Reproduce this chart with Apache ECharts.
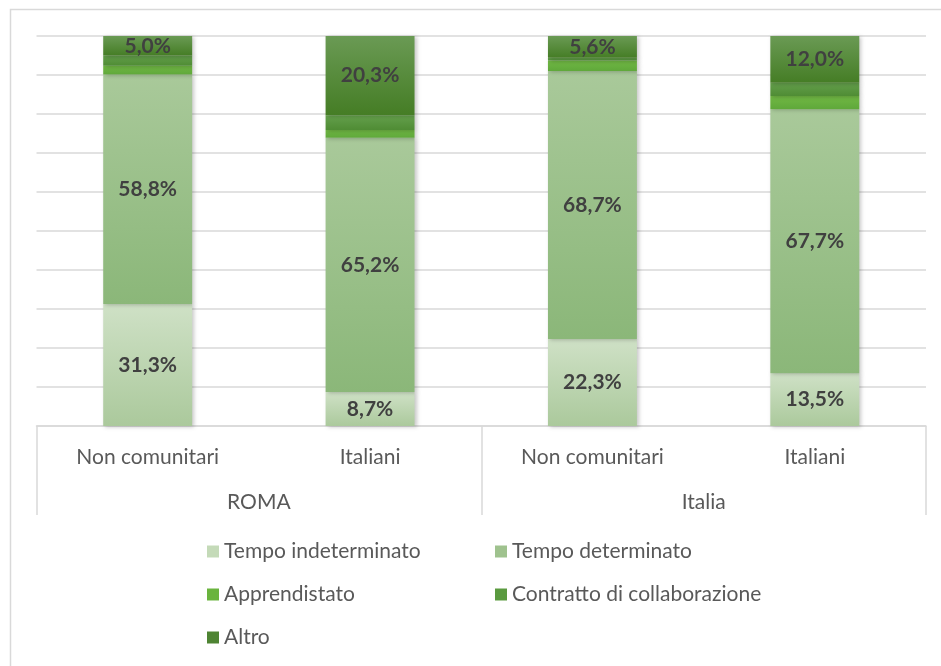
<!DOCTYPE html>
<html>
<head>
<meta charset="utf-8">
<script src="https://cdn.jsdelivr.net/npm/echarts@6/dist/echarts.min.js"></script>
<style>
html,body{margin:0;padding:0;background:#fff;}
#chart{width:941px;height:666px;}
</style>
</head>
<body>
<div id="chart"></div>
<script>
const categories = ['Non comunitari', 'Italiani', 'Non comunitari', 'Italiani'];
const groups = ['ROMA', 'Italia'];
const seriesNames = ['Tempo indeterminato', 'Tempo determinato', 'Apprendistato', 'Contratto di collaborazione', 'Altro'];
const tempoIndeterminato = [31.3, 8.7, 22.3, 13.5];
const tempoDeterminato = [58.8, 65.2, 68.7, 67.7];
const apprendistato = [2.3, 2.0, 2.7, 3.4];
const contratto = [2.6, 3.8, 0.7, 3.4];
const altro = [5.0, 20.3, 5.6, 12.0];
const yTicks = [0, 10, 20, 30, 40, 50, 60, 70, 80, 90, 100];

const FONT = 'Lato';
function grad(top, bottom) {
  return new echarts.graphic.LinearGradient(0, 0, 0, 1, [
    {offset: 0, color: top}, {offset: 1, color: bottom}
  ]);
}
const colors = [
  ['#cfe1c6', '#abc99c'],
  ['#a9c99a', '#8bb779'],
  ['#71b844', '#5fa83a'],
  ['#649f4c', '#4f8c34'],
  ['#6a9a54', '#457d25']
];
const legendSwatch = ['#c4dab8', '#9fc28e', '#6ab43e', '#5a9a3f', '#4e8433'];
const values = [tempoIndeterminato, tempoDeterminato, apprendistato, contratto, altro];
const showLabel = [true, true, false, false, true];

const series = seriesNames.map((name, i) => ({
  name: name,
  type: 'bar',
  stack: 'total',
  barWidth: '40%',
  xAxisIndex: 0,
  data: values[i],
  itemStyle: {
    color: grad(colors[i][0], colors[i][1]),
    shadowColor: 'rgba(0,0,0,0.22)',
    shadowBlur: 4,
    shadowOffsetX: 2,
    shadowOffsetY: 1
  },
  label: {
    show: showLabel[i],
    position: 'inside',
    formatter: p => p.value.toFixed(1).replace('.', ',') + '%',
    fontFamily: FONT,
    fontWeight: 'bold',
    fontSize: 21,
    color: '#404040'
  }
}));

const legendPos = [
  {left: 207, top: 541},
  {left: 495, top: 541},
  {left: 207, top: 584},
  {left: 495, top: 584},
  {left: 207, top: 627}
];
const legends = seriesNames.map((name, i) => ({
  data: [{name: name, itemStyle: {color: legendSwatch[i]}}],
  left: legendPos[i].left,
  top: legendPos[i].top,
  icon: 'rect',
  itemWidth: 12,
  itemHeight: 12,
  itemGap: 0,
  padding: 0,
  selectedMode: false,
  textStyle: {fontFamily: FONT, fontSize: 21, color: '#595959', padding: [0, 0, 0, 0]}
}));

const chart = echarts.init(document.getElementById('chart'));
chart.setOption({
  animation: false,
  backgroundColor: '#fff',
  graphic: [{
    type: 'rect',
    left: 8, top: 7,
    shape: {width: 960, height: 700},
    style: {fill: 'none', stroke: '#d9d9d9', lineWidth: 1.5},
    z: -10
  }],
  legend: legends,
  grid: {left: 36.5, right: 15, top: 36, bottom: 240},
  xAxis: [{
    type: 'category',
    data: categories,
    axisLine: {show: true, lineStyle: {color: '#d9d9d9', width: 1.5}},
    axisTick: {show: false},
    axisLabel: {fontFamily: FONT, fontSize: 21, color: '#595959', margin: 21, interval: 0}
  }, {
    type: 'category',
    data: groups,
    position: 'bottom',
    axisLine: {show: false},
    axisTick: {show: true, length: 89, interval: 0, lineStyle: {color: '#d9d9d9', width: 1.5}},
    axisLabel: {fontFamily: FONT, fontSize: 21, color: '#595959', margin: 66, interval: 0}
  }],
  yAxis: {
    type: 'value',
    min: yTicks[0],
    max: yTicks[yTicks.length - 1],
    interval: 10,
    axisLabel: {show: false},
    axisLine: {show: false},
    axisTick: {show: false},
    splitLine: {lineStyle: {color: '#d9d9d9', width: 1.5}}
  },
  series: series
});
</script>
</body>
</html>
